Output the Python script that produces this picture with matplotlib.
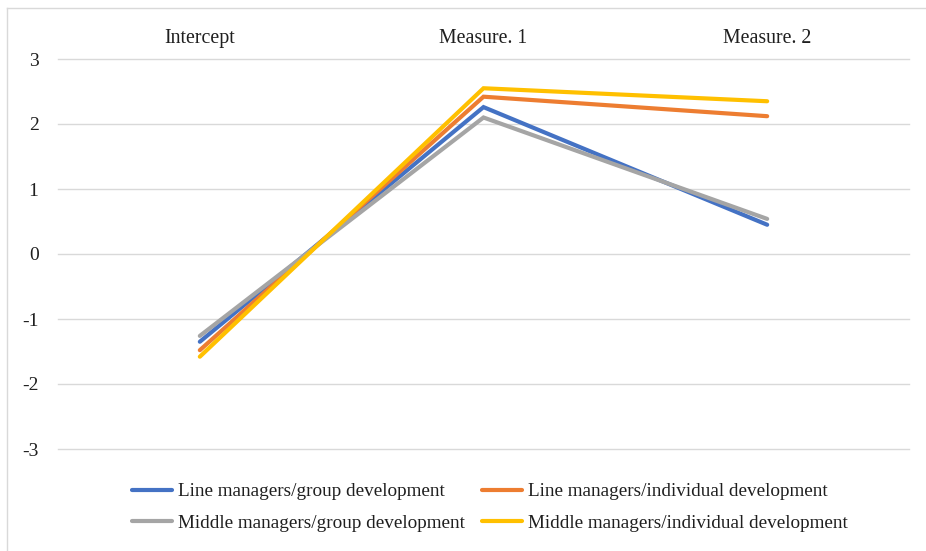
import matplotlib
matplotlib.use("Agg")
import matplotlib.pyplot as plt
from matplotlib.lines import Line2D

categories = ["Intercept", "Measure. 1", "Measure. 2"]
series_names = [
    "Line managers/group development",
    "Line managers/individual development",
    "Middle managers/group development",
    "Middle managers/individual development",
]
line_group = [-1.35, 2.26, 0.45]
line_indiv = [-1.48, 2.42, 2.12]
middle_group = [-1.26, 2.10, 0.54]
middle_indiv = [-1.58, 2.55, 2.35]
y_ticks = [-3, -2, -1, 0, 1, 2, 3]

colors = ["#4472C4", "#ED7D31", "#A5A5A5", "#FFC000"]
values = [line_group, line_indiv, middle_group, middle_indiv]

plt.rcParams["font.family"] = ["Liberation Serif", "DejaVu Serif"]
text_color = "#1f1f1f"

fig = plt.figure(figsize=(9.26, 5.51), dpi=100)
ax = fig.add_axes([58 / 926, 1 - 449 / 551, 851 / 926, 390 / 551])

x = list(range(len(categories)))
handles = []
for vals, c, name in zip(values, colors, series_names):
    (ln,) = ax.plot(x, vals, color=c, lw=3.0, solid_capstyle="round",
                    solid_joinstyle="miter", label=name, zorder=3)
    handles.append(ln)

ax.set_xlim(-0.5, len(categories) - 0.5)
ax.set_ylim(-3, 3)
ax.set_yticks(y_ticks)
ax.set_yticklabels([str(v) for v in y_ticks])
ax.tick_params(axis="y", length=0, pad=14, labelsize=14, labelcolor=text_color)
ax.set_xticks(x)
ax.set_xticklabels(categories)
ax.xaxis.tick_top()
ax.tick_params(axis="x", length=0, pad=8, labelsize=14.3, labelcolor=text_color)
ax.grid(axis="y", color="#D9D9D9", lw=1.0, zorder=0)
for gl in ax.get_ygridlines():
    gl.set_clip_on(False)
for s in ax.spines.values():
    s.set_visible(False)

# legend in two columns below the plot area, filled row by row
order = [0, 2, 1, 3]
leg = fig.legend(
    [handles[i] for i in order], [series_names[i] for i in order],
    ncol=2, loc="center left", bbox_to_anchor=(132 / 926, 1 - 507.5 / 551),
    frameon=False, fontsize=13.8, handlelength=2.1, handletextpad=0.3,
    columnspacing=0.9, labelspacing=0.75, borderpad=0.0, borderaxespad=0.0,
)
for t in leg.get_texts():
    t.set_color(text_color)

# chart frame
fig.add_artist(Line2D([7 / 926, 7 / 926], [0, 1 - 8 / 551], color="#D9D9D9", lw=1.0))
fig.add_artist(Line2D([7 / 926, 1], [1 - 8 / 551, 1 - 8 / 551], color="#D9D9D9", lw=1.0))

fig.savefig("out.png", dpi=100)
